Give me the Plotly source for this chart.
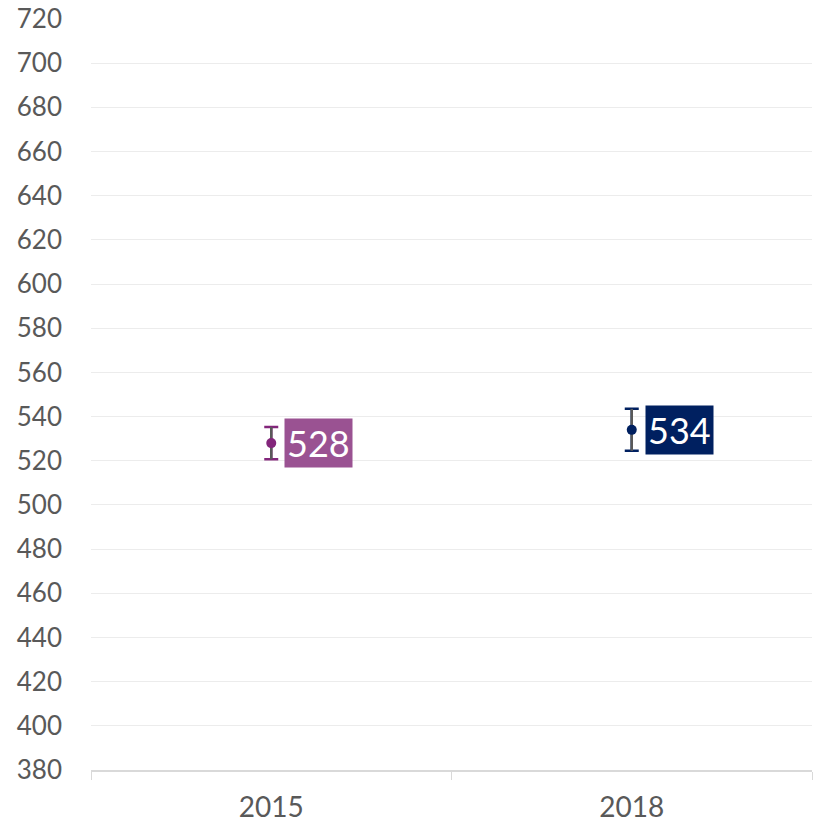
import plotly.graph_objects as go

years = ["2015", "2018"]
scores = [528, 534]
errors = [7.3, 9.5]
marker_colors = ["#83267B", "#002060"]
label_colors = ["#9A5292", "#002060"]
tick_vals = list(range(380, 721, 20))

fig = go.Figure()
for i, yr in enumerate(years):
    # coloured caps
    fig.add_trace(go.Scatter(
        x=[yr], y=[scores[i]], mode="markers",
        marker=dict(size=10, color="rgba(0,0,0,0)"),
        error_y=dict(type="data", array=[errors[i]], color=marker_colors[i], thickness=2.5, width=7),
        showlegend=False, hoverinfo="skip"))
    # grey stem + marker
    fig.add_trace(go.Scatter(
        x=[yr], y=[scores[i]], mode="markers",
        marker=dict(size=10, color=marker_colors[i]),
        error_y=dict(type="data", array=[errors[i]], color="#595959", thickness=2.5, width=0),
        showlegend=False))
    fig.add_annotation(
        x=i, y=scores[i], text=str(scores[i]), showarrow=False,
        xanchor="left", yanchor="middle", xshift=13,
        bgcolor=label_colors[i], borderpad=2,
        font=dict(family="Lato", size=36, color="white"))

fig.update_layout(
    width=819, height=826,
    margin=dict(l=91, r=7, t=19, b=56),
    plot_bgcolor="white", paper_bgcolor="white",
    font=dict(family="Lato", color="#595959"),
    xaxis=dict(type="category", categoryorder="array", categoryarray=years,
               range=[-0.5, len(years) - 0.5], tickangle=0, automargin=False,
               tickson="boundaries", ticks="outside", ticklen=8, tickcolor="#d9d9d9",
               showline=True, linecolor="#d9d9d9", linewidth=1.5, showgrid=False,
               ticklabelstandoff=12,
               tickfont=dict(size=28, color="#595959")),
    yaxis=dict(range=[380, 720], tickvals=tick_vals, showgrid=True, gridcolor="#ececec",
               gridwidth=1, zeroline=False, showline=False, ticks="", automargin=False,
               tickfont=dict(size=26, color="#595959"), ticklabelstandoff=28),
)

fig.write_html("out.html", config={"displayModeBar": False},
               post_script="document.body.style.margin='0';")
